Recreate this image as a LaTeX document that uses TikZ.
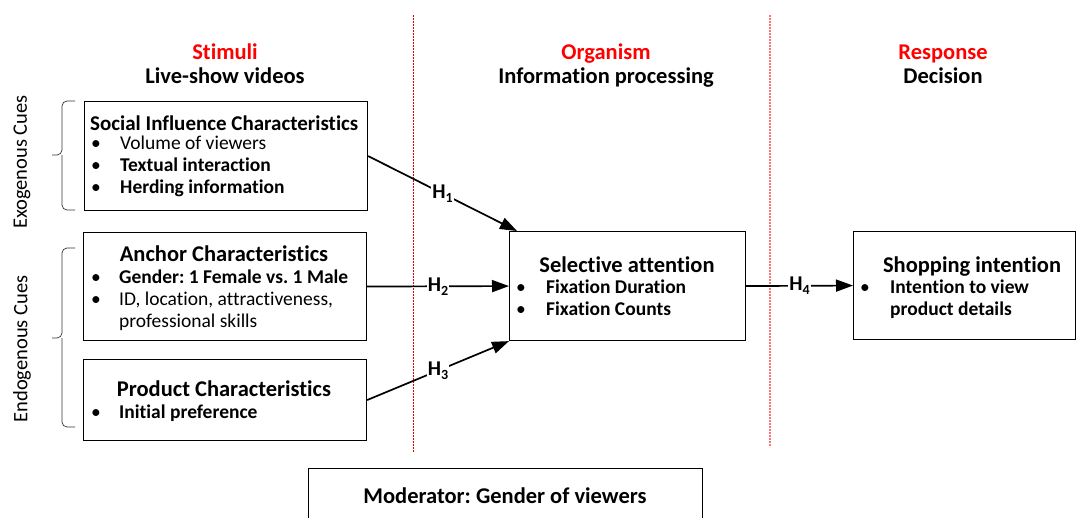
\documentclass[tikz,border=0pt]{standalone}
\usepackage{fontspec}
\setmainfont{Carlito}[Ligatures=NoCommon]
\usetikzlibrary{positioning, arrows.meta, calc}
\frenchspacing

\newcommand{\hsub}[1]{H\raisebox{-4pt}{\fontsize{14}{14}\selectfont #1}}

\begin{document}
\begin{tikzpicture}[x=1pt, y=-1pt,
    box/.style={draw, line width=1.1pt, anchor=north west, inner sep=0pt},
    txt/.style={anchor=base west, inner sep=0pt, font=\fontsize{19.5}{22}\selectfont},
    btxt/.style={txt, font=\fontsize{19.5}{22}\selectfont\bfseries},
    ctitle/.style={anchor=base, inner sep=0pt, font=\fontsize{22.5}{26}\selectfont\bfseries},
    dot/.style={anchor=base, inner sep=0pt, font=\fontsize{19.5}{22}\selectfont},
    arr/.style={line width=1.7pt, -{Triangle[length=17pt, width=12pt]}},
    hlab/.style={pos=0.5, fill=white, inner sep=1pt, font=\fontsize{21}{24}\selectfont\bfseries},
    cue/.style={rounded corners=5pt, line width=0.7pt, black!80},
    cuetxt/.style={rotate=90, font=\fontsize{20.5}{24}\selectfont}]
        \clip (0,0) rectangle (1076,517);

        % Stage dividers
        \draw[red!85!black, line width=0.5pt, dash pattern=on 2pt off 1pt] (413,15) -- (413,452);
        \draw[red!55, line width=1.2pt, dash pattern=on 2pt off 1pt] (770,15) -- (770,447);

        % Stage headers
        \node[ctitle, red] (stimuli) at (225,59) {Stimuli};
        \node[ctitle] (stimulisub) at (225,83) {Live-show videos};
        \node[ctitle, red] (organism) at (606,59) {Organism};
        \node[ctitle] (organismsub) at (606,83) {Information processing};
        \node[ctitle, red] (response) at (943,59) {Response};
        \node[ctitle] (responsesub) at (943,83) {Decision};

        % Boxes
        \node[box, minimum width=283pt, minimum height=109pt] (social) at (84,101) {};
        \node[box, minimum width=283pt, minimum height=108pt] (anchor) at (83,232) {};
        \node[box, minimum width=283pt, minimum height=81pt] (product) at (83,359) {};
        \node[box, minimum width=236pt, minimum height=109pt] (sel) at (509,231) {};
        \node[box, minimum width=222pt, minimum height=108pt] (shop) at (853,231) {};
        \node[box, minimum width=394pt, minimum height=60pt] (moderator) at (308,468) {};

        % Social influence
        \node[btxt, font=\fontsize{21}{24}\selectfont\bfseries] (socialtitle) at (90,130) {Social Influence Characteristics};
        \node[txt] (volume) at (120,149) {Volume of viewers};
        \node[btxt] (textual) at (120,171) {Textual interaction};
        \node[btxt] (herding) at (120,193) {Herding information};

        % Anchor
        \node[ctitle] (anchortitle) at (224,261) {Anchor Characteristics};
        \node[btxt] (gender) at (119,283) {Gender: 1 Female vs. 1 Male};
        \node[txt] (idloc) at (119,305) {ID, location, attractiveness,};
        \node[txt] (skills) at (119,327) {professional skills};

        % Product
        \node[ctitle] (producttitle) at (224,396) {Product Characteristics};
        \node[btxt] (initial) at (119,418) {Initial preference};

        % Selective attention
        \node[ctitle] (seltitle) at (627,272) {Selective attention};
        \node[btxt] (duration) at (546,293) {Fixation Duration};
        \node[btxt] (counts) at (546,315) {Fixation Counts};

        % Shopping intention
        \node[ctitle] (shoptitle) at (972,272) {Shopping intention};
        \node[btxt] (view) at (890,293) {Intention to view};
        \node[btxt] (details) at (890,315) {product details};

        % Moderator
        \node[ctitle] (modtitle) at (505,503) {Moderator: Gender of viewers};

        % Bullets
        \foreach \x/\y [count=\i] in {96/149, 96/171, 96/193, 96/283, 96/305, 96/418, 521/293, 521/315, 865/293} {
            \node[dot] (bullet\i) at (\x,\y) {•};
        }

        % Cue braces
        \draw[cue] (75,101) -- (62,101) -- (62,155) -- (52,155);
        \draw[cue] (75,210) -- (62,210) -- (62,155);
        \draw[cue] (75,248) -- (62,248) -- (62,338) -- (52,338);
        \draw[cue] (75,427) -- (62,427) -- (62,338);
        \node[cuetxt] (exo) at (22,162) {Exogenous Cues};
        \node[cuetxt] (endo) at (22,349) {Endogenous Cues};

        % Hypotheses
        \draw[arr] (social.east) -- node[hlab] {\hsub{1}} ($(sel.north west)+(8,0)$);
        \draw[arr] (anchor.east) -- node[hlab] {\hsub{2}} (sel.west);
        \draw[arr] (product.east) -- node[hlab] {\hsub{3}} (sel.south west);
        \draw[arr] (sel.east) -- node[hlab] {\hsub{4}} (shop.west);
    \end{tikzpicture}
\end{document}
